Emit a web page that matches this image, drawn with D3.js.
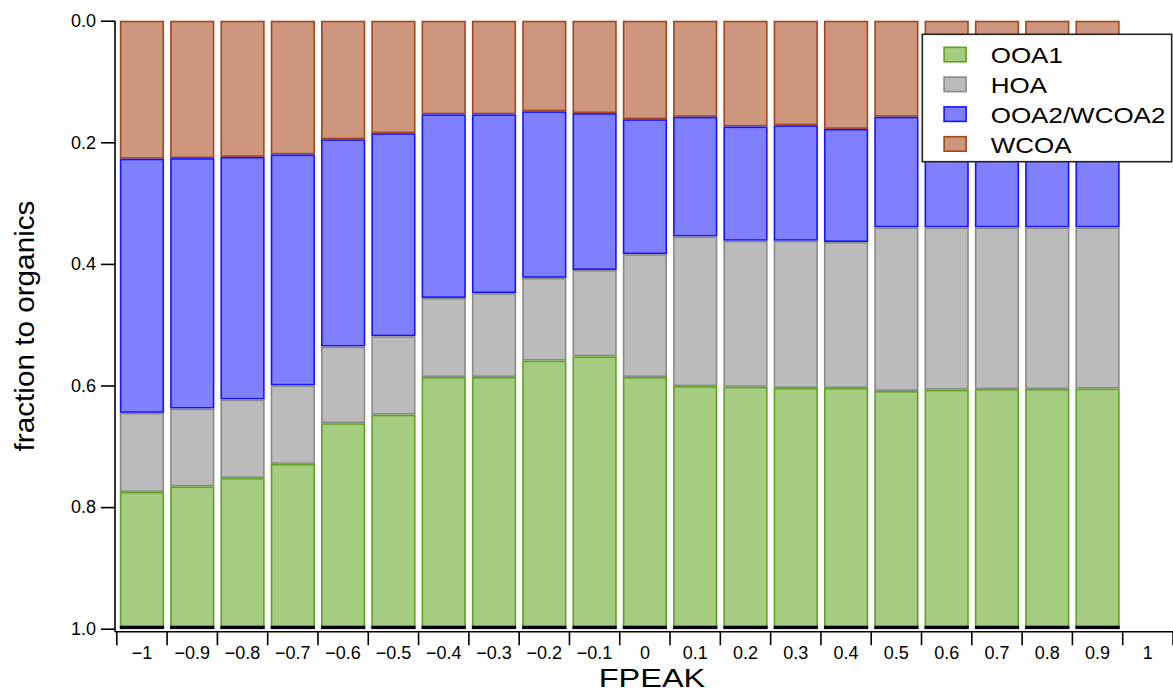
<!DOCTYPE html>
<html>
<head>
<meta charset="utf-8">
<script src="https://cdn.jsdelivr.net/npm/d3@7"></script>
<style>
  html, body { margin: 0; padding: 0; background: #fff; }
  svg { display: block; }
  text { font-family: "Liberation Sans", Arial, Helvetica, sans-serif; fill: #000; }
</style>
</head>
<body>
<svg id="chart" width="1173" height="691"></svg>
<script>
// FPEAK values on the x axis (the last one has no solution drawn)
const fpeakTicks = [-1, -0.9, -0.8, -0.7, -0.6, -0.5, -0.4, -0.3, -0.2, -0.1,
                    0, 0.1, 0.2, 0.3, 0.4, 0.5, 0.6, 0.7, 0.8, 0.9, 1];
const fpeakRuns  = fpeakTicks.slice(0, 20);

// Factor fractions of total organics for each FPEAK run
const WCOA = [0.227, 0.226, 0.224, 0.220, 0.195, 0.185, 0.154, 0.154, 0.149, 0.152,
              0.162, 0.158, 0.174, 0.172, 0.178, 0.158, 0.160, 0.160, 0.160, 0.160];
const OOA2 = [0.418, 0.412, 0.399, 0.380, 0.341, 0.334, 0.302, 0.294, 0.274, 0.258,
              0.222, 0.197, 0.188, 0.190, 0.186, 0.182, 0.180, 0.180, 0.180, 0.180];
const HOA  = [0.130, 0.128, 0.129, 0.129, 0.126, 0.129, 0.130, 0.138, 0.136, 0.142,
              0.202, 0.246, 0.240, 0.242, 0.240, 0.269, 0.267, 0.266, 0.266, 0.265];
const OOA1 = [0.225, 0.234, 0.248, 0.271, 0.338, 0.352, 0.414, 0.414, 0.441, 0.448,
              0.414, 0.399, 0.398, 0.396, 0.396, 0.391, 0.393, 0.394, 0.394, 0.395];

const yTicks = [0, 0.2, 0.4, 0.6, 0.8, 1.0];

// Stacked from the top of the axis (0) down to 1
const factors = [
  { key: "WCOA",        label: "WCOA",        values: WCOA, fill: "#cc977c", stroke: "#a8441c" },
  { key: "OOA2",        label: "OOA2/WCOA2",  values: OOA2, fill: "#8080ff", stroke: "#1414ff" },
  { key: "HOA",         label: "HOA",         values: HOA,  fill: "#bbbbbb", stroke: "#8a8a8a" },
  { key: "OOA1",        label: "OOA1",        values: OOA1, fill: "#a6cc82", stroke: "#5ea322" }
];
const legendOrder = ["OOA1", "HOA", "OOA2", "WCOA"];

const rows = fpeakRuns.map((f, i) => {
  const r = { fpeak: f };
  factors.forEach(s => { r[s.key] = s.values[i]; });
  return r;
});

const fmt = d3.format("");          // uses the typographic minus sign
const svg = d3.select("#chart");

const plot = { left: 116.8, right: 1173, top: 20.7, bottom: 628.7 };
const xAxisY = plot.bottom + 3;
const yAxisX = 115;

const x = d3.scaleBand()
  .domain(fpeakTicks)
  .range([plot.left, plot.right])
  .paddingInner(0.12)
  .paddingOuter(0.06);

const y = d3.scaleLinear().domain([0, 1]).range([plot.top, plot.bottom]);

const stack = d3.stack().keys(factors.map(s => s.key));
const series = stack(rows);

// Bars
const layer = svg.append("g").attr("class", "bars");
series.forEach((s, si) => {
  const f = factors[si];
  layer.append("g")
    .selectAll("rect")
    .data(s)
    .join("rect")
      .attr("x", d => x(d.data.fpeak) + 0.8)
      .attr("width", x.bandwidth() - 1.6)
      .attr("y", d => y(d[0]) + 0.8)
      .attr("height", d => Math.max(0, y(d[1]) - y(d[0]) - 1.6))
      .attr("fill", f.fill)
      .attr("stroke", f.stroke)
      .attr("stroke-width", 1.6);
});

// dark base of each bar at the 1.0 level
layer.append("g")
  .selectAll("rect")
  .data(rows)
  .join("rect")
    .attr("x", d => x(d.fpeak))
    .attr("width", x.bandwidth())
    .attr("y", y(1) - 3)
    .attr("height", 3.4)
    .attr("fill", "#000");

// Y axis
const yAxis = d3.axisLeft(y).tickValues(yTicks).tickSize(14).tickPadding(5).tickFormat(d3.format(".1f"));
const gy = svg.append("g").attr("transform", `translate(${yAxisX},0)`).call(yAxis);
gy.select(".domain").attr("d", `M0,${plot.top}V${xAxisY}`).attr("stroke-width", 1.6);
gy.selectAll(".tick line").attr("stroke-width", 1.6);
gy.selectAll(".tick text")
  .attr("font-size", 18).attr("font-family", null).attr("fill", "#000");

// X axis: ticks sit on the band edges, labels are centred in each band
const edges = d3.range(fpeakTicks.length + 1).map(i => plot.left + i * x.step());
const gx = svg.append("g").attr("class", "x-axis");
gx.append("path")
  .attr("d", `M${yAxisX},${xAxisY}H${plot.right}`)
  .attr("stroke", "#000").attr("stroke-width", 1.6).attr("fill", "none");
gx.selectAll("line.tick")
  .data(edges)
  .join("line")
    .attr("class", "tick")
    .attr("x1", d => d).attr("x2", d => d)
    .attr("y1", xAxisY).attr("y2", xAxisY + 13.5)
    .attr("stroke", "#000").attr("stroke-width", 1.6);
gx.selectAll("text")
  .data(fpeakTicks)
  .join("text")
    .attr("x", d => x(d) + x.bandwidth() / 2)
    .attr("y", xAxisY + 27)
    .attr("text-anchor", "middle")
    .attr("font-size", 18)
    .text(d => fmt(d));

// Axis titles
svg.append("text")
  .attr("transform", `translate(652,687) scale(1.25,1)`)
  .attr("text-anchor", "middle")
  .attr("font-size", 26)
  .text("FPEAK");

svg.append("text")
  .attr("transform", `translate(34,326) rotate(-90) scale(1.1,1)`)
  .attr("text-anchor", "middle")
  .attr("font-size", 27)
  .text("fraction to organics");

// Legend
const lg = svg.append("g").attr("class", "legend");
lg.append("rect")
  .attr("x", 922.3).attr("y", 34.3)
  .attr("width", 249.4).attr("height", 127.4)
  .attr("fill", "#fff").attr("stroke", "#222").attr("stroke-width", 1.6);
const items = legendOrder.map(k => factors.find(f => f.key === k));
const li = lg.selectAll("g.item")
  .data(items)
  .join("g")
    .attr("class", "item")
    .attr("transform", (d, i) => `translate(943.3,${55 + i * 29.8})`);
li.append("rect")
  .attr("x", 0.8).attr("y", -7.7)
  .attr("width", 22).attr("height", 14.5)
  .attr("fill", d => d.fill).attr("stroke", d => d.stroke).attr("stroke-width", 1.6);
li.append("text")
  .attr("transform", "translate(47.4,8.2) scale(1.15,1)")
  .attr("font-size", 22.6)
  .text(d => d.label);
</script>
</body>
</html>
